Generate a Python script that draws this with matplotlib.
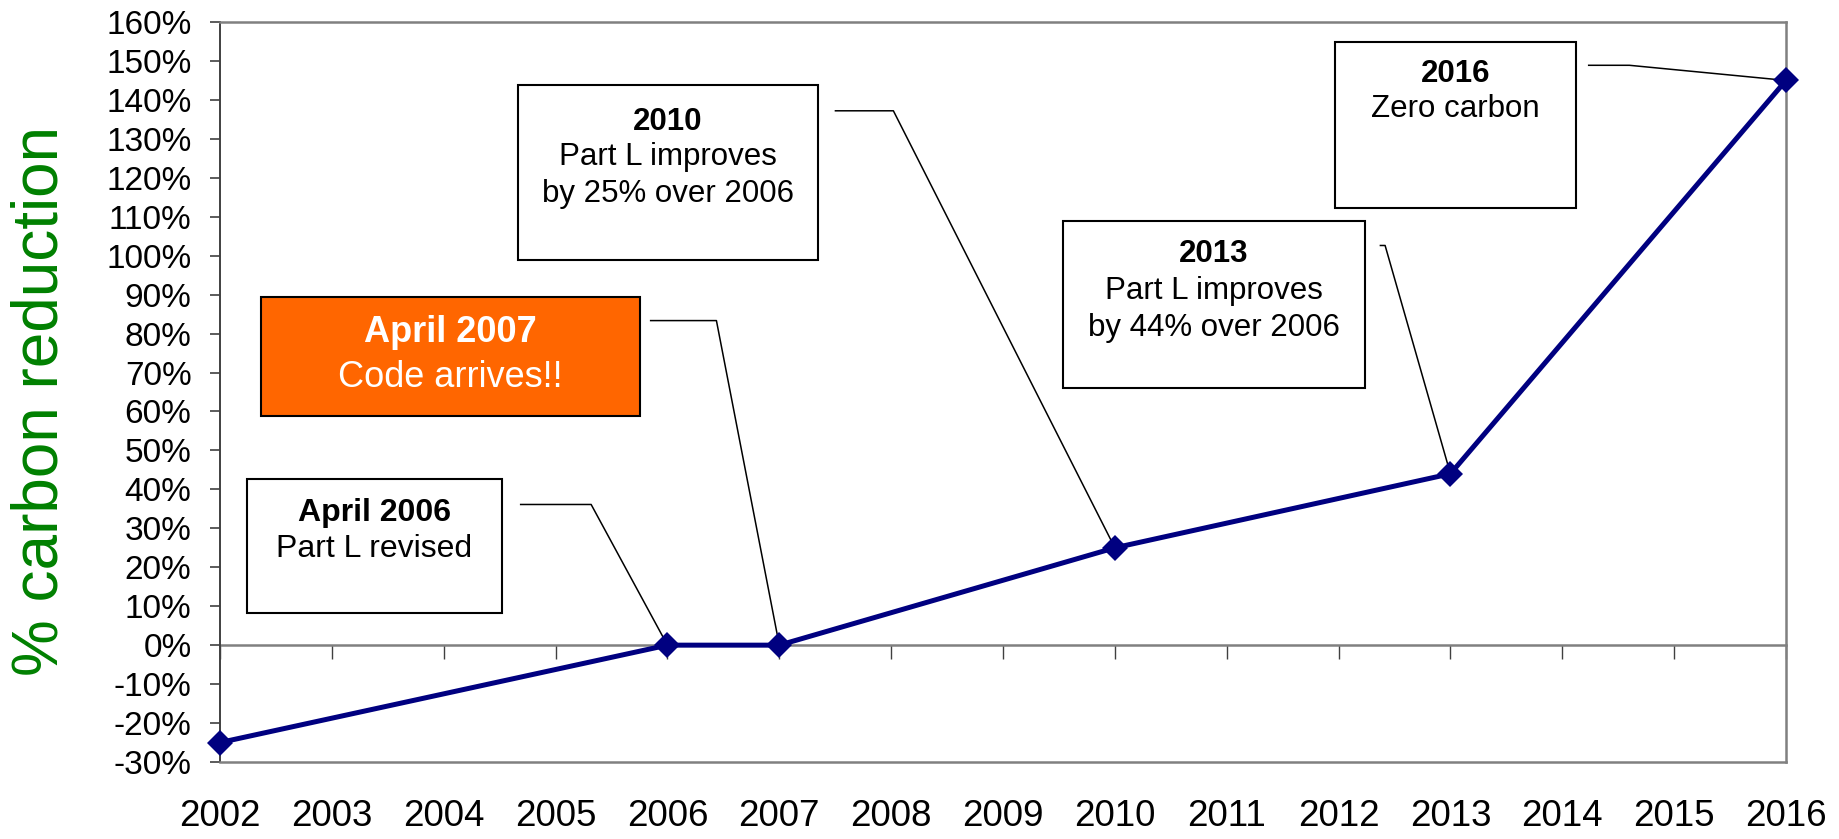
import matplotlib
matplotlib.use("Agg")
import numpy as np
import matplotlib.pyplot as plt
import matplotlib.ticker as ticker
from matplotlib.patches import Rectangle

plt.rcParams["font.family"] = ["Liberation Sans", "DejaVu Sans"]

# ─── Data ─────────────────────────────────────────────────────────────────────
YEARS     = [2002, 2006, 2007, 2010, 2013, 2016]
REDUCTION = [-0.25, 0.00, 0.00, 0.25, 0.44, 1.45]
TICK_YEARS = list(range(2002, 2017))
Y_TICKS    = [v / 100 for v in range(-30, 161, 10)]

# Call-out boxes: title, body lines, year/value they point at
NOTE_TITLES = ["April 2006", "April 2007", "2010", "2013", "2016"]
NOTE_BODIES = [
    ["Part L revised"],
    ["Code arrives!!"],
    ["Part L improves", "by 25% over 2006"],
    ["Part L improves", "by 44% over 2006"],
    ["Zero carbon"],
]
NOTE_TARGETS = [(2006, 0.00), (2007, 0.00), (2010, 0.25), (2013, 0.44), (2016, 1.45)]

# layout (axes fraction): box x0, x1, y0, y1, line ys, leader start x, knee x, leader y
BOXES = [
    (0.017, 0.180, 0.201, 0.383, [0.336, 0.288], 0.192, 0.237, 0.348),
    (0.026, 0.268, 0.467, 0.628, [0.580, 0.519], 0.275, 0.317, 0.5965),
    (0.190, 0.382, 0.679, 0.915, [0.865, 0.817, 0.768], 0.393, 0.430, 0.880),
    (0.538, 0.731, 0.506, 0.731, [0.686, 0.636, 0.586], 0.741, 0.744, 0.698),
    (0.712, 0.866, 0.748, 0.973, [0.930, 0.882], 0.874, 0.900, 0.9415),
]
ORANGE = "#FF6600"
NAVY   = "#000080"

XMIN, XMAX = 2002, 2016
YMIN, YMAX = -0.30, 1.60

# ─── Figure ───────────────────────────────────────────────────────────────────
fig = plt.figure(figsize=(18.39, 8.39), dpi=100)
ax = fig.add_axes([220 / 1839, 77 / 839, 1566 / 1839, 740 / 839])

ax.set_xlim(XMIN, XMAX)
ax.set_ylim(YMIN, YMAX)

ax.plot(YEARS, REDUCTION, "-", color=NAVY, linewidth=3.6,
        marker="D", markersize=13.5, markeredgewidth=0, clip_on=False, zorder=5)

# frame
for side in ["top", "right", "bottom"]:
    ax.spines[side].set_color("#808080")
    ax.spines[side].set_linewidth(1.8)
ax.spines["left"].set_color("#404040")
ax.spines["left"].set_linewidth(1.4)

# y axis
ax.set_yticks(Y_TICKS)
ax.yaxis.set_major_formatter(ticker.FuncFormatter(lambda v, p: f"{round(v * 100):d}%"))
ax.tick_params(axis="y", direction="out", length=7.5, width=1.2, color="#404040",
               pad=13, labelsize=24)

# x labels at the bottom, tick marks on the zero line
ax.set_xticks(TICK_YEARS)
ax.set_xticklabels([str(y) for y in TICK_YEARS])
ax.tick_params(axis="x", length=0, pad=27, labelsize=26.5)

zero_frac = (0 - YMIN) / (YMAX - YMIN)
sec = ax.secondary_xaxis(zero_frac)
sec.set_xticks(TICK_YEARS)
sec.set_xticklabels([])
sec.spines["bottom"].set_color("#808080")
sec.spines["bottom"].set_linewidth(1.8)
sec.tick_params(axis="x", direction="out", length=10, width=1, color="#404040")

fig.text(41 / 1839, 0.522, "% carbon reduction", rotation=90, color="#008000",
         fontsize=46, ha="center", va="center")

# ─── Call-outs ────────────────────────────────────────────────────────────────
def to_data(fx, fy):
    return XMIN + fx * (XMAX - XMIN), YMIN + fy * (YMAX - YMIN)

for i, (title, body, target, box) in enumerate(zip(NOTE_TITLES, NOTE_BODIES, NOTE_TARGETS, BOXES)):
    x0, x1, y0, y1, ys, sx, kx, ly = box
    orange = i == 1
    face = ORANGE if orange else "white"
    tcol = "white" if orange else "black"
    fsize = 26 if orange else (23 if i == 0 else 22.5)
    ax.add_patch(Rectangle((x0, y0), x1 - x0, y1 - y0, transform=ax.transAxes,
                           facecolor=face, edgecolor="black", linewidth=1.5,
                           zorder=3, clip_on=False))
    cx = (x0 + x1) / 2
    ax.text(cx, ys[0], title, transform=ax.transAxes, ha="center", va="center",
            fontsize=fsize, fontweight="bold", color=tcol, zorder=4)
    for line, yy in zip(body, ys[1:]):
        ax.text(cx, yy, line, transform=ax.transAxes, ha="center", va="center",
                fontsize=fsize, color=tcol, zorder=4)
    p0 = to_data(sx, ly)
    p1 = to_data(kx, ly)
    ax.plot([p0[0], p1[0], target[0]], [p0[1], p1[1], target[1]],
            color="black", linewidth=1.1, zorder=4, clip_on=False)

plt.savefig("out.png", dpi=100)
